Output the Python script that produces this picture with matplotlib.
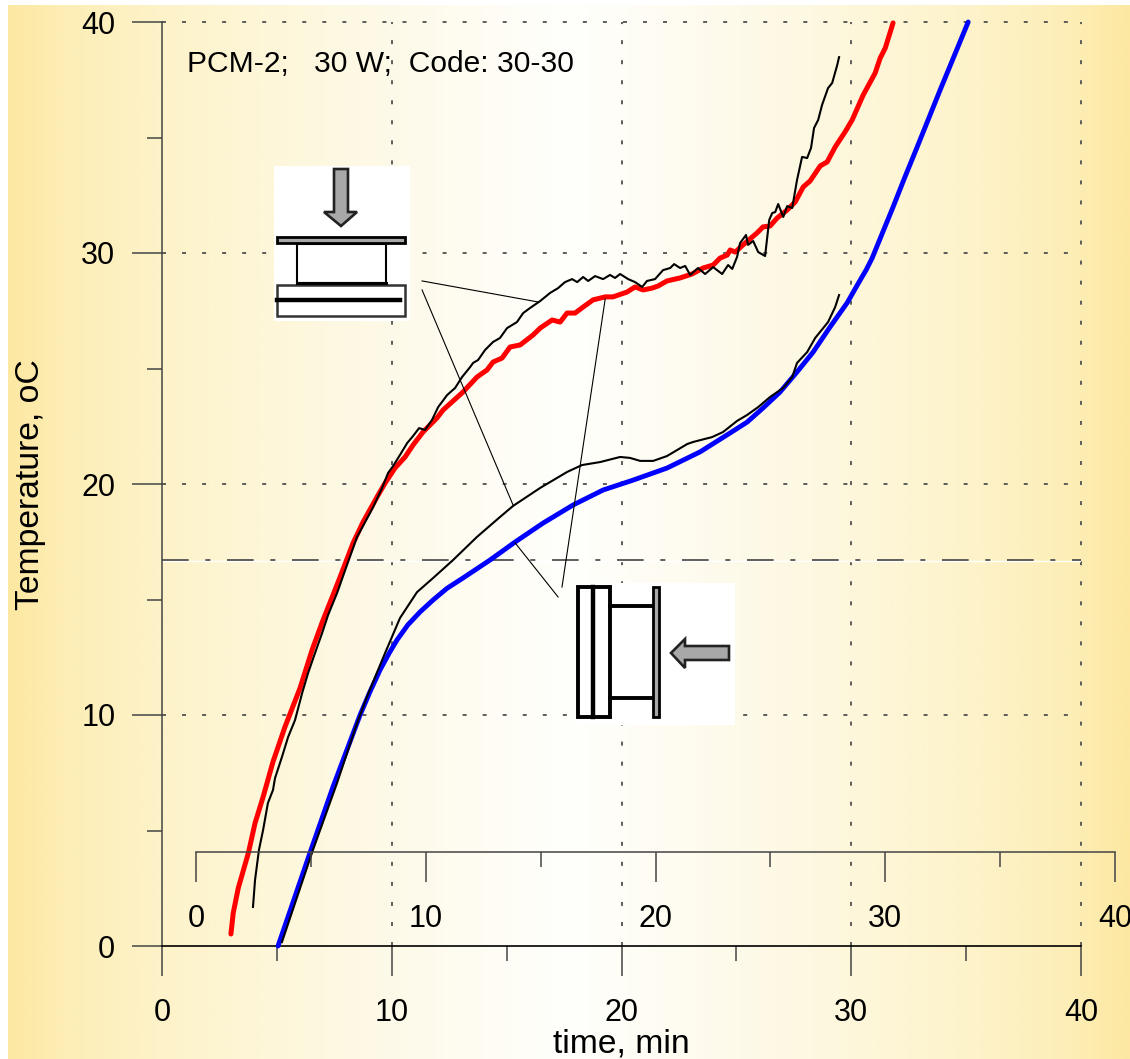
"""PCM-2, 30 W, code 30-30: temperature vs time, horizontal vs vertical heat-sink orientation."""
import numpy as np
import matplotlib
matplotlib.use("Agg")
import matplotlib.pyplot as plt
from matplotlib.patches import Rectangle, Polygon

W, H = 1130, 1059

red_t = [3.00, 3.10, 3.32, 3.76, 4.05, 4.40, 4.83, 5.35, 6.01, 6.53, 7.01, 7.53, 7.75, 8.32, 8.75, 9.36, 9.71,
         10.14, 10.58, 10.93, 11.36, 11.97, 12.23, 13.10, 13.71, 14.15, 14.41, 14.80, 15.15, 15.59, 16.15, 16.46,
         16.98, 17.33, 17.63, 17.98, 18.33, 18.76, 19.29, 19.63, 20.24, 20.59, 20.94, 21.33, 21.59, 21.98, 22.55,
         23.07, 23.55, 23.99, 24.29, 24.60, 24.73, 24.95, 25.29, 25.90, 26.16, 26.47, 26.77, 27.21, 27.56, 27.91,
         28.21, 28.65, 28.95, 29.30, 29.73, 30.04, 30.52, 31.04, 31.26, 31.48, 31.82]
red_T = [0.52, 1.43, 2.51, 4.03, 5.32, 6.45, 7.97, 9.48, 11.17, 12.81, 14.11, 15.41, 15.97, 17.45, 18.35, 19.44, 20.04,
         20.69, 21.17, 21.69, 22.25, 22.86, 23.20, 23.98, 24.63, 24.94, 25.28, 25.45, 25.93, 26.02, 26.45, 26.75,
         27.10, 27.01, 27.40, 27.40, 27.66, 27.97, 28.10, 28.10, 28.31, 28.53, 28.40, 28.48, 28.57, 28.79, 28.92,
         29.09, 29.35, 29.48, 29.78, 29.91, 30.13, 30.04, 30.35, 30.87, 31.13, 31.17, 31.51, 31.86, 32.21, 32.86,
         33.12, 33.77, 33.94, 34.59, 35.24, 35.76, 36.84, 37.79, 38.44, 38.87, 39.96]

blue_t = [5.05, 6.44, 7.44, 8.62, 9.05, 9.49, 9.90, 10.23, 10.70, 11.23, 11.80, 12.40, 13.10, 14.28, 15.37, 16.59, 17.89,
          19.20, 20.51, 21.98, 23.42, 24.73, 25.47, 26.16, 26.90, 27.64, 28.34, 29.08, 29.82, 30.39, 30.65, 30.91,
          31.35, 31.82, 32.30, 32.87, 33.87, 35.09]
blue_T = [0.0, 4.03, 6.88, 10.0, 11.0, 11.95, 12.70, 13.25, 13.90, 14.46, 14.98, 15.48, 15.93, 16.71, 17.49, 18.31, 19.09,
          19.74, 20.17, 20.69, 21.39, 22.21, 22.68, 23.29, 23.98, 24.85, 25.71, 26.80, 27.84, 28.83, 29.27, 29.78,
          30.85, 31.99, 33.20, 34.59, 37.06, 40.0]

black_low_t = [5.22, 6.57, 7.62, 8.49, 8.92, 9.62, 10.36, 11.10, 11.80, 12.67, 13.71, 14.71, 15.28, 16.46, 17.63, 18.28,
               19.07, 19.94, 20.37, 20.81, 21.38, 21.98, 22.42, 22.86, 23.12, 23.94, 24.42, 25.03, 25.47, 25.95, 26.47,
               27.04, 27.43, 27.64, 28.08, 28.43, 28.99, 29.30, 29.47]
black_low_T = [0.17, 4.16, 7.06, 9.65, 10.78, 12.47, 14.2, 15.32, 15.93, 16.71, 17.71, 18.57, 19.05, 19.83, 20.52, 20.82,
               20.95, 21.17, 21.13, 21.00, 21.00, 21.21, 21.47, 21.73, 21.82, 22.03, 22.25, 22.73, 22.99, 23.33, 23.77,
               24.16, 24.63, 25.24, 25.71, 26.32, 27.01, 27.66, 28.18]

black_up_t = [3.96, 4.05, 4.22, 4.40, 4.61, 4.83, 4.92, 5.22, 5.49, 5.79, 6.10, 6.36, 6.66, 6.97, 7.23, 7.62, 8.05,
              8.49, 8.84, 9.19, 9.58, 9.84, 10.06, 10.36, 10.67, 10.93, 11.19, 11.45, 11.75, 12.02, 12.41, 12.76,
              13.06, 13.41, 13.54, 13.76, 14.06, 14.41, 14.71, 15.02, 15.45, 15.72, 16.02, 16.46, 16.89, 17.24, 17.54,
              17.85, 18.07, 18.33, 18.55, 18.85, 19.20, 19.50, 19.72, 19.94, 20.29, 20.59, 20.90, 21.11, 21.46, 21.81,
              22.12, 22.29, 22.55, 22.77, 22.99, 23.33, 23.64, 23.99, 24.38, 24.64, 24.82, 25.03, 25.16, 25.42, 25.51,
              25.73, 25.95, 26.25, 26.43, 26.56, 26.69, 26.82, 27.04, 27.21, 27.43, 27.64, 27.86, 28.08, 28.25, 28.38,
              28.56, 28.73, 28.99, 29.17, 29.39, 29.47]
black_up_T = [1.69, 2.86, 4.16, 5.02, 6.19, 6.75, 7.27, 8.18, 9.05, 9.78, 10.95, 11.82, 12.68, 13.55, 14.33, 15.28, 16.49,
              17.71, 18.35, 19.00, 19.83, 20.48, 20.78, 21.26, 21.77, 22.08, 22.42, 22.34, 22.77, 23.33, 23.85, 24.16,
              24.63, 25.06, 25.24, 25.37, 25.80, 26.15, 26.32, 26.75, 27.01, 27.40, 27.62, 27.92, 28.27, 28.48, 28.74,
              28.87, 28.74, 28.96, 28.79, 29.00, 28.87, 29.05, 28.92, 29.09, 28.87, 28.74, 28.53, 28.79, 28.87, 29.26,
              29.35, 29.52, 29.35, 29.44, 29.05, 29.35, 29.09, 29.39, 29.09, 29.48, 29.31, 29.83, 30.43, 30.78, 30.35,
              30.52, 30.04, 29.87, 31.43, 31.73, 31.77, 32.12, 31.56, 32.03, 31.95, 33.16, 34.16, 34.11, 34.55, 35.41,
              35.76, 36.41, 37.14, 37.36, 38.14, 38.48]

ref_T = 16.7
major = [0, 10, 20, 30, 40]
minor = [5, 15, 25, 35]
# leader lines from the two sketches to their curves
leaders = [([11.32, 16.37], [28.79, 27.88]),
           ([11.32, 15.28], [28.40, 19.09]),
           ([15.37, 17.24], [17.45, 15.11]),
           ([17.41, 19.29], [15.54, 28.01])]

plt.rcParams["font.family"] = ["Liberation Sans", "DejaVu Sans"]
AXC = "#444444"
FS = 22

fig = plt.figure(figsize=(W / 100, H / 100), dpi=100, facecolor="white")

# background gradient, full panel apart from a thin white strip top and left
bg = fig.add_axes([0, 0, 1, 1], zorder=-1)
bg.set_axis_off()
stops = np.array([0.0, 0.05, 0.12, 0.25, 0.38, 0.5, 0.62, 0.75, 0.88, 0.95, 1.0])
r = np.array([0xFD, 0xFD, 0xFD, 0xFD, 0xFE, 0xFF, 0xFE, 0xFD, 0xFD, 0xFD, 0xFD])
g = np.array([0xE8, 0xEE, 0xF2, 0xF7, 0xFB, 0xFF, 0xFB, 0xF7, 0xF2, 0xEE, 0xE8])
b = np.array([0xA2, 0xB6, 0xC6, 0xDC, 0xEE, 0xFC, 0xEE, 0xDC, 0xC6, 0xB6, 0xA2])
u = np.linspace(0, 1, 512)
grad = np.stack([np.interp(u, stops, c) for c in (r, g, b)], axis=-1)[None, :, :] / 255
bg.imshow(grad, aspect="auto", extent=[8, W, H, 5], interpolation="bilinear")
bg.set_xlim(0, W)
bg.set_ylim(H, 0)

ax = fig.add_axes([162 / W, (H - 946) / H, 919 / W, 924 / H], zorder=1)
ax.patch.set_visible(False)
ax.set_xlim(0, 40)
ax.set_ylim(0, 40)

for v in major[1:]:
    ax.plot([v, v], [0, 40], color="#505050", lw=1.3, ls=(0, (2.2, 8.9)), zorder=1, clip_on=False)
    ax.plot([0, 40], [v, v], color="#505050", lw=1.3, ls=(0, (2.2, 8.9)), zorder=1, clip_on=False)

ax.plot([0, 40], [ref_T - 0.05, ref_T - 0.05], color="white", lw=1.0, zorder=1)
ax.plot([0, 40], [ref_T, ref_T], color="#444444", lw=1.2, ls=(0, (16, 10, 3, 10)), zorder=1.5)

ax.plot(red_t, red_T, color="#FF0000", lw=3.6, solid_capstyle="round", zorder=3, clip_on=False)
ax.plot(blue_t, blue_T, color="#0000FF", lw=3.5, solid_capstyle="round", zorder=3, clip_on=False)
ax.plot(black_low_t, black_low_T, color="black", lw=1.5, zorder=4)
ax.plot(black_up_t, black_up_T, color="black", lw=1.5, zorder=4)
for lx, ly in leaders:
    ax.plot(lx, ly, color="black", lw=0.8, zorder=5)

for s in ("top", "right"):
    ax.spines[s].set_visible(False)
ax.spines["left"].set_color(AXC)
ax.spines["left"].set_linewidth(1.1)
ax.spines["bottom"].set_color("black")
ax.spines["bottom"].set_linewidth(1.2)
ax.set_xticks(major)
ax.set_yticks(major)
ax.set_xticks(minor, minor=True)
ax.set_yticks(minor, minor=True)
ax.tick_params(which="major", length=21.6, width=1.1, color=AXC, labelsize=FS)
ax.tick_params(which="minor", length=10.8, width=1.1, color=AXC)
ax.tick_params(axis="y", which="major", pad=12)
ax.tick_params(axis="x", which="major", pad=15.5)
ax.text(1.07, 38.2, "PCM-2;   30 W;  Code: 30-30", fontsize=21.6, ha="left", va="center")
fig.text(31 / W, 1 - 485 / H, "Temperature, oC", rotation=90, fontsize=24.3, ha="center", va="center")
fig.text(621 / W, 1 - 1044 / H, "time, min", fontsize=24.2, ha="center", va="center")

# second time axis, shifted to the right and drawn inside the plot
ax2 = fig.add_axes([196 / W, (H - 852) / H, 919 / W, 1e-5], zorder=2)
ax2.patch.set_visible(False)
ax2.set_xlim(0, 40)
ax2.set_yticks([])
for s in ("top", "right", "left"):
    ax2.spines[s].set_visible(False)
ax2.spines["bottom"].set_color(AXC)
ax2.spines["bottom"].set_linewidth(1.1)
ax2.set_xticks(major)
ax2.set_xticks(minor, minor=True)
ax2.tick_params(which="major", length=21.6, width=1.1, color=AXC, labelsize=FS, pad=15.5)
ax2.tick_params(which="minor", length=10.8, width=1.1, color=AXC)

# orientation sketches, in figure pixels
sk = fig.add_axes([0, 0, 1, 1], zorder=3)
sk.set_axis_off()
sk.set_xlim(0, W)
sk.set_ylim(H, 0)
GR = "#A8A8A8"


def box(x0, y0, x1, y1, fc="none", ec="black", lw=1.5):
    sk.add_patch(Rectangle((x0, y0), x1 - x0, y1 - y0, facecolor=fc, edgecolor=ec, linewidth=lw))


# top sketch: arrow down on a horizontal plate
box(274, 166, 410, 321, fc="white", ec="none", lw=0)
sk.add_patch(Polygon([(334, 169), (348, 169), (348, 212), (357, 212), (341, 226), (324, 212), (334, 212)],
                     facecolor=GR, edgecolor="#222222", linewidth=1.9))
box(277, 237, 405, 243, fc=GR, lw=2.0)
box(297, 244, 386, 283, lw=1.5)
sk.plot([297, 386], [283, 283], color="black", lw=2.2)
box(277, 285, 405, 316, ec="#333333", lw=1.8)
sk.plot([277, 400], [300, 300], color="black", lw=3.2)

# side sketch: arrow from the right on a vertical plate
box(577, 583, 735, 725, fc="white", ec="none", lw=0)
box(578, 587, 610, 717, lw=2.8)
sk.plot([593, 593], [587, 717], color="black", lw=3.2)
sk.plot([610, 652], [606, 606], color="black", lw=2.8)
sk.plot([610, 652], [698, 698], color="black", lw=2.8)
box(653, 587, 659, 717, fc=GR, lw=2.0)
sk.add_patch(Polygon([(729, 646), (729, 660), (685, 660), (685, 668), (671, 653), (685, 639), (685, 646)],
                     facecolor=GR, edgecolor="#222222", linewidth=1.9))

fig.savefig("out.png", dpi=100)
